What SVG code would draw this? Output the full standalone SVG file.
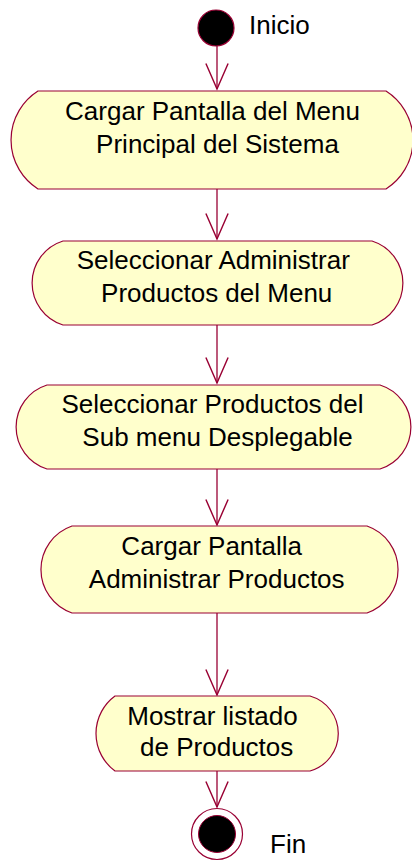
<svg xmlns="http://www.w3.org/2000/svg" width="412" height="861" viewBox="0 0 412 861">
<style>
.node{fill:#FFFFCC;stroke:#990033;stroke-width:1.2}
.lbl{font-family:"Liberation Sans",Arial,sans-serif;font-size:26px;fill:#000;text-anchor:middle}
.free{font-family:"Liberation Sans",Arial,sans-serif;font-size:26px;fill:#000}
.conn{stroke:#990033;stroke-width:1.3;fill:none}
</style>
<defs>
<marker id="arr" markerUnits="userSpaceOnUse" markerWidth="30" markerHeight="30" viewBox="-25 -12 27 24" refX="0" refY="0" orient="auto">
<path d="M-23,-10 L0,0 L-23,10" fill="none" stroke="#990033" stroke-width="1.3"/>
</marker>
</defs>
<rect width="412" height="861" fill="#fff"/>
<g id="connectors">
<line class="conn" x1="217" y1="46" x2="217" y2="89" marker-end="url(#arr)"/>
<line class="conn" x1="217" y1="189" x2="217" y2="239" marker-end="url(#arr)"/>
<line class="conn" x1="217" y1="325" x2="217" y2="383" marker-end="url(#arr)"/>
<line class="conn" x1="217" y1="469" x2="217" y2="525" marker-end="url(#arr)"/>
<line class="conn" x1="217" y1="613" x2="217" y2="695" marker-end="url(#arr)"/>
<line class="conn" x1="217" y1="771" x2="217" y2="807" marker-end="url(#arr)"/>
</g>
<g id="inicio">
<circle cx="216" cy="28" r="18" fill="#000" stroke="#990033" stroke-width="1.2"/>
<text class="free" x="249" y="34">Inicio</text>
</g>
<g id="n1">
<path class="node" d="M38,91 L386,91 A58,58 0 0 1 386,189 L38,189 A58,58 0 0 1 38,91 Z"/>
<text class="lbl" x="212.5" y="120">Cargar Pantalla del Menu</text>
<text class="lbl" x="217.5" y="153">Principal del Sistema</text>
</g>
<g id="n2">
<path class="node" d="M63,241 L372,241 A44,44 0 0 1 372,325 L63,325 A44,44 0 0 1 63,241 Z"/>
<text class="lbl" x="213.3" y="269">Seleccionar Administrar</text>
<text class="lbl" x="216.7" y="302">Productos del Menu</text>
</g>
<g id="n3">
<path class="node" d="M47,385 L380,385 A44,44 0 0 1 380,469 L47,469 A44,44 0 0 1 47,385 Z"/>
<text class="lbl" x="212.5" y="413">Seleccionar Productos del</text>
<text class="lbl" x="217.5" y="446">Sub menu Desplegable</text>
</g>
<g id="n4">
<path class="node" d="M72,526 L367,526 A46,46 0 0 1 367,613 L72,613 A46,46 0 0 1 72,526 Z"/>
<text class="lbl" x="211.7" y="555">Cargar Pantalla</text>
<text class="lbl" x="216.7" y="588">Administrar Productos</text>
</g>
<g id="n5">
<path class="node" d="M115,696 L310,696 A39,39 0 0 1 310,771 L115,771 A46.5,46.5 0 0 1 115,696 Z"/>
<text class="lbl" x="212.5" y="725">Mostrar listado</text>
<text class="lbl" x="216.7" y="756">de Productos</text>
</g>
<g id="fin">
<circle cx="217" cy="834" r="25.5" fill="#fff" stroke="#990033" stroke-width="1.2"/>
<circle cx="217" cy="834" r="18.5" fill="#000" stroke="#990033" stroke-width="1"/>
<text class="free" x="270" y="853">Fin</text>
</g>
</svg>
